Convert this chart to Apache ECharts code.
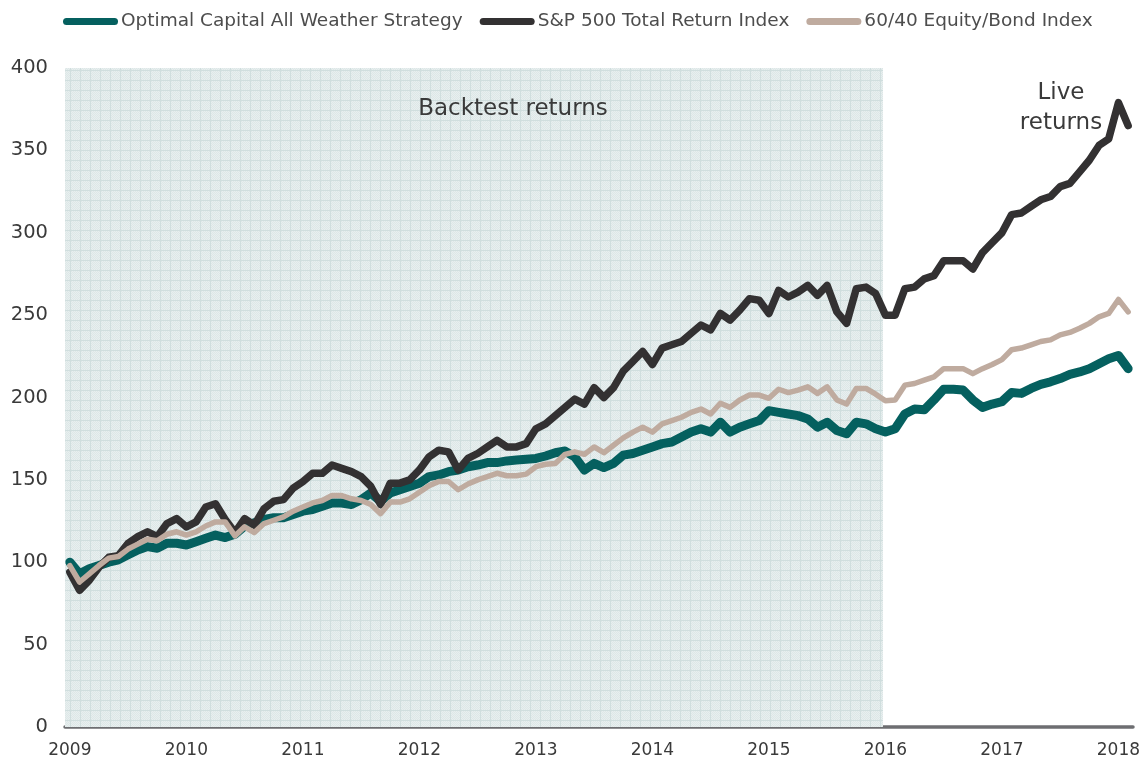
<!DOCTYPE html>
<html>
<head>
<meta charset="utf-8">
<script src="https://cdn.jsdelivr.net/npm/echarts@6/dist/echarts.min.js"></script>
<style>
  html, body { margin: 0; padding: 0; background: #fff; }
  #main { width: 1140px; height: 759px; }
</style>
</head>
<body>
<div id="main"></div>
<script>
// monthly values, Jan 2009 .. Feb 2018
var allWeather = [
  100, 93, 96, 98, 100, 101.5, 104.5, 107.5, 109.5, 108.5, 111.5, 111.5,
  110.5, 112.5, 114.5, 116.5, 115, 117, 122, 124, 126, 127, 127, 129,
  131, 132, 134, 136, 136, 135, 138, 142, 137, 142, 144, 146,
  148, 152, 153, 155, 156, 158, 159, 160.5, 160.5, 161.5, 162, 162.5,
  163, 164.5, 166.5, 167.5, 164, 156, 160, 157.5, 160, 165, 166, 168,
  170, 172, 173, 176, 179, 181, 179, 185, 179, 182, 184, 186,
  192, 191, 190, 189, 187, 182, 185, 180, 178, 185, 184, 181,
  179, 181, 190, 193, 192.5, 198.5, 205, 205, 204.5, 198.5, 194, 196,
  197.5, 203, 202.5, 205.5, 208, 209.5, 211.5, 214, 215.5, 217.5, 220.5, 223.5,
  225.5, 217.5
]
var sp500 = [
  94, 83, 89, 97, 103, 104, 111.5, 115.5, 118.5, 115.5, 123.5, 126.5,
  121.5, 124.5, 133.5, 135.5, 126, 118, 126.5, 122.5, 132.5, 137, 138, 145,
  149, 154, 154, 159, 157, 155, 152, 146, 135, 148, 148, 150,
  156, 164, 168, 167, 156, 163, 166, 170, 174, 170, 170, 172,
  181, 184, 189, 194, 199, 196, 206, 200, 206, 216, 222, 228,
  220, 230, 232, 234, 239, 244, 241, 251, 247, 253, 260, 259,
  251, 265, 261, 264, 268, 262, 268, 252, 245, 266, 267, 263,
  250, 250, 266, 267, 272, 274, 283, 283, 283, 278, 288, 294,
  300, 311, 312, 316, 320, 322, 328, 330, 337, 344, 353, 357,
  379, 365
]
var equityBond = [
  98, 88, 93, 98, 102.5, 103.5, 108, 111, 114, 113, 117, 118.5,
  116.5, 118.5, 122, 124.5, 124.5, 116, 121.5, 118, 123.5, 125.5, 127.5, 131,
  133.5, 136, 137.5, 140.5, 140.5, 138.5, 137.5, 135, 129.5, 136.5, 136.5, 138.5,
  142.5, 146.5, 149, 149, 144, 147.5, 150, 152, 154, 152.5, 152.5, 153.5,
  158, 159.5, 160, 165.5, 167, 165.5, 170, 166.5, 171, 175.5, 179, 182,
  179, 184, 186, 188, 191, 193, 190, 196.5, 194, 198.5, 201.5, 201.5,
  199.5, 205, 203, 204.5, 206.5, 202.5, 206.5, 198.5, 196, 205.5, 205.5, 202,
  198, 198.5, 207.5, 208.5, 210.5, 212.5, 217.5, 217.5, 217.5, 214.5, 217.5, 220,
  223, 229, 230, 232, 234, 235, 238, 239.5, 242, 245, 249, 251,
  259.5, 252
]
var seriesNames = ['Optimal Capital All Weather Strategy', 'S&P 500 Total Return Index', '60/40 Equity/Bond Index']
var yTicks = [0, 50, 100, 150, 200, 250, 300, 350, 400]

// month labels
var months = []
for (var y = 2009; months.length < allWeather.length; y++) {
  for (var m = 1; m <= 12 && months.length < allWeather.length; m++) {
    months.push(y + '-' + (m < 10 ? '0' + m : m))
  }
}
// backtest period in month-band units (hidden helper axis)
var backtestRange = [0, 84.25]

function makePattern () {
  var c = document.createElement('canvas')
  c.width = 10
  c.height = 10
  var ctx = c.getContext('2d')
  ctx.fillStyle = '#e8efef'
  ctx.fillRect(0, 0, 10, 10)
  ctx.fillStyle = '#dde7e7'
  for (var py = 0; py < 10; py++) {
    for (var px = 0; px < 10; px++) {
      if ((px + py) % 2 === 0) ctx.fillRect(px, py, 1, 1)
    }
  }
  ctx.fillStyle = '#d0dede'
  ctx.fillRect(0, 0, 10, 1)
  ctx.fillRect(0, 0, 1, 10)
  return c
}

var font = 'DejaVu Sans'
var chart = echarts.init(document.getElementById('main'))
chart.setOption({
  animation: false,
  textStyle: { fontFamily: font },
  grid: { left: 65, right: 7, top: 68, bottom: 32, containLabel: false, outerBoundsMode: 'none' },
  legend: {
    data: seriesNames,
    left: 63,
    top: 12,
    padding: 0,
    icon: 'path://M3.5,0 H51.5 A3.5,3.5 0 0 1 51.5,7 H3.5 A3.5,3.5 0 0 1 3.5,0 Z',
    itemWidth: 55,
    itemHeight: 7,
    itemGap: 17,
    textStyle: { fontSize: 18.5, color: '#4d4d4d', fontFamily: font, padding: [0, 0, 0, -2] }
  },
  xAxis: [{
    type: 'category',
    data: months,
    boundaryGap: true,
    axisLine: { lineStyle: { color: '#6d6e71', width: 3.5 } },
    axisTick: { show: false },
    axisLabel: {
      interval: 11,
      fontSize: 17,
      color: '#3a3a3a',
      margin: 15,
      formatter: function (v) { return v.slice(0, 4) }
    },
    splitLine: { show: false }
  }, {
    type: 'value',
    min: 0,
    max: months.length,
    show: false
  }],
  yAxis: {
    type: 'value',
    min: yTicks[0],
    max: yTicks[yTicks.length - 1],
    interval: 50,
    axisLine: { show: false },
    axisTick: { show: false },
    splitLine: { show: false },
    axisLabel: { fontSize: 19.5, color: '#3a3a3a', margin: 17 }
  },
  graphic: [
    {
      type: 'text', x: 513, y: 109, z: 100,
      style: { text: 'Backtest returns', fontSize: 23, fill: '#3a3a3a', fontFamily: font, align: 'center', verticalAlign: 'middle' }
    },
    {
      type: 'text', x: 1061, y: 108, z: 100,
      style: { text: 'Live\nreturns', fontSize: 23, lineHeight: 30, fill: '#3a3a3a', fontFamily: font, align: 'center', verticalAlign: 'middle' }
    }
  ],
  series: [
    {
      name: 'shade',
      type: 'line',
      xAxisIndex: 1,
      data: [],
      silent: true,
      z: 1,
      markArea: {
        silent: true,
        itemStyle: { color: { image: makePattern(), repeat: 'repeat' } },
        data: [[{ xAxis: backtestRange[0] }, { xAxis: backtestRange[1] }]]
      }
    },
    {
      name: seriesNames[0],
      type: 'line',
      data: allWeather,
      color: '#05605f',
      symbol: 'none',
      lineStyle: { width: 9, color: '#05605f', join: 'round', cap: 'round' }
    },
    {
      name: seriesNames[1],
      type: 'line',
      data: sp500,
      color: '#333132',
      symbol: 'none',
      lineStyle: { width: 7.5, color: '#333132', join: 'round', cap: 'round' }
    },
    {
      name: seriesNames[2],
      type: 'line',
      data: equityBond,
      color: '#bfab9f',
      symbol: 'none',
      lineStyle: { width: 5.5, color: '#bfab9f', join: 'round', cap: 'round' }
    }
  ]
})
</script>
</body>
</html>
